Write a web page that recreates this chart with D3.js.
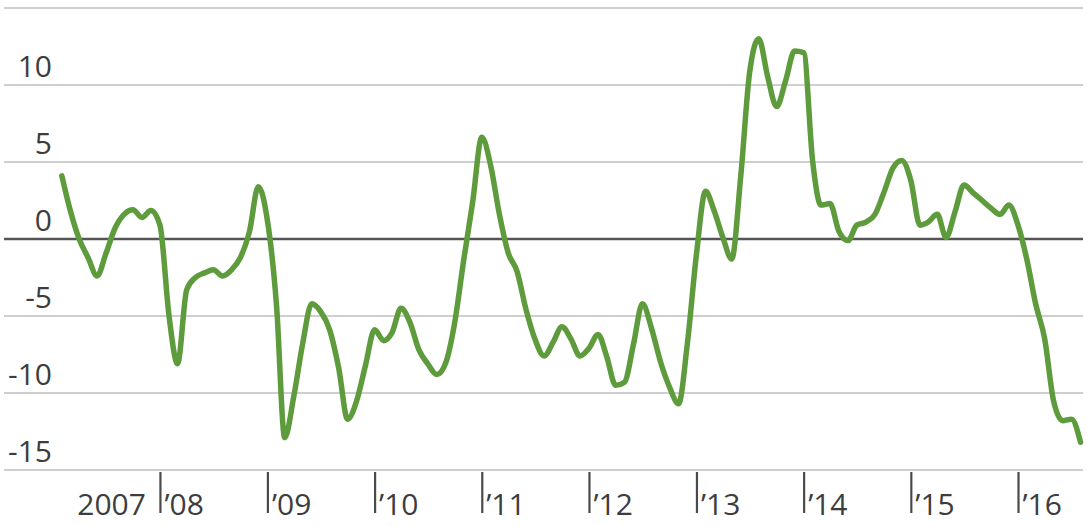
<!DOCTYPE html>
<html>
<head>
<meta charset="utf-8">
<script src="https://cdn.jsdelivr.net/npm/d3@7"></script>
<style>
  html, body { margin: 0; padding: 0; background: #ffffff; }
  svg { display: block; }
</style>
</head>
<body>
<div id="chart"></div>
<script>
// ---- data ----
const startMonth = "2007-02";
const values = [
  4.1, 1.9, 0.0, -1.2, -2.4, -0.95, 0.7, 1.6, 1.9, 1.4, 1.85,        // Feb-Dec 2007
  0.9, -5.0, -8.1, -3.3, -2.5, -2.2, -2.0, -2.4, -2.0, -1.2, 0.5, 3.4, // 2008
  1.2, -4.3, -12.9, -10.2, -6.8, -4.2, -4.7, -5.9, -8.4, -11.7, -10.5, -8.2, // 2009
  -5.9, -6.6, -6.1, -4.5, -5.4, -7.2, -8.1, -8.8, -8.0, -5.4, -1.3, 2.4, // 2010
  6.6, 4.7, 1.7, -0.9, -2.1, -4.6, -6.5, -7.6, -6.7, -5.7, -6.5, -7.6, // 2011
  -7.1, -6.2, -7.6, -9.5, -9.3, -6.8, -4.2, -5.8, -8.0, -9.6, -10.7, -6.8, // 2012
  -1.0, 3.1, 1.9, 0.1, -1.3, 4.1, 10.8, 13.0, 10.5, 8.6, 10.3, 12.2, // 2013
  12.1, 5.0, 2.2, 2.3, 0.5, -0.1, 0.9, 1.1, 1.6, 3.0, 4.6, 5.1,      // 2014
  3.8, 0.9, 1.1, 1.6, 0.1, 1.8, 3.5, 3.0, 2.5, 2.0, 1.6, 2.2,        // 2015
  0.9, -1.4, -4.2, -6.5, -10.5, -11.8, -11.7, -13.2                 // Jan-Aug 2016
];
const yTicks = [-15, -10, -5, 0, 5, 10, 15];
const yTickLabels = ["-15", "-10", "-5", "0", "5", "10", ""];
const xYears = [2008, 2009, 2010, 2011, 2012, 2013, 2014, 2015, 2016];
const xYearLabels = ["’08", "’09", "’10", "’11", "’12", "’13", "’14", "’15", "’16"];
const firstYearLabel = "2007";

// ---- layout ----
const W = 1087, H = 525;
const svg = d3.select("#chart").append("svg").attr("width", W).attr("height", H);

const parseMonth = d3.timeParse("%Y-%m");
const t0 = parseMonth(startMonth);
const data = values.map((v, i) => ({ date: d3.timeMonth.offset(t0, i), value: v }));

const x = d3.scaleTime()
  .domain([new Date(2007, 0, 1), new Date(2016, 0, 1)])
  .range([52.75, 1018]);
const y = d3.scaleLinear().domain([-15, 15]).range([470, 8]);

const gridLeft = 4, gridRight = 1083;
const fontFam = "'Open Sans', 'Lato', sans-serif";

// gridlines
svg.append("g").selectAll("line")
  .data(yTicks.filter(d => d !== 0))
  .join("line")
  .attr("x1", gridLeft).attr("x2", gridRight)
  .attr("y1", d => y(d)).attr("y2", d => y(d))
  .attr("stroke", "#cfcfcf").attr("stroke-width", 2.2);

// y labels
const yAxis = d3.axisLeft(y).tickValues(yTicks)
  .tickFormat((d, i) => yTickLabels[i]).tickSize(0);
const gy = svg.append("g").attr("transform", "translate(52,0)").call(yAxis);
gy.select(".domain").remove();
gy.selectAll("text")
  .attr("x", 0).attr("dy", "-0.27em")
  .attr("text-anchor", "end")
  .style("font-family", fontFam).style("font-size", "30px")
  .attr("fill", "#3d3d3d");

// x ticks
const xAxis = d3.axisBottom(x)
  .tickValues(xYears.map(yr => new Date(yr, 0, 1)))
  .tickFormat((d, i) => xYearLabels[i])
  .tickSize(41).tickPadding(0);
const gx = svg.append("g").attr("transform", "translate(0,472)").call(xAxis);
gx.select(".domain").remove();
gx.selectAll(".tick line").attr("stroke", "#4a4a4a").attr("stroke-width", 2.2);
gx.selectAll(".tick text")
  .attr("x", 4).attr("y", 43).attr("dy", 0)
  .attr("text-anchor", "start")
  .style("font-family", fontFam).style("font-size", "30px")
  .attr("fill", "#3d3d3d");
svg.append("text")
  .attr("x", x(new Date(2008, 0, 1)) - 14).attr("y", 515)
  .attr("text-anchor", "end")
  .style("font-family", fontFam).style("font-size", "30px")
  .attr("fill", "#3d3d3d")
  .text(firstYearLabel);

// zero line
svg.append("line")
  .attr("x1", gridLeft).attr("x2", gridRight)
  .attr("y1", y(0)).attr("y2", y(0))
  .attr("stroke", "#555555").attr("stroke-width", 2.6);

// series line
const line = d3.line()
  .x(d => x(d.date)).y(d => y(d.value))
  .curve(d3.curveMonotoneX);
svg.append("path")
  .datum(data)
  .attr("d", line)
  .attr("fill", "none")
  .attr("stroke", "#5e9b3c")
  .attr("stroke-width", 5.5)
  .attr("stroke-linejoin", "round")
  .attr("stroke-linecap", "round");
</script>
</body>
</html>
